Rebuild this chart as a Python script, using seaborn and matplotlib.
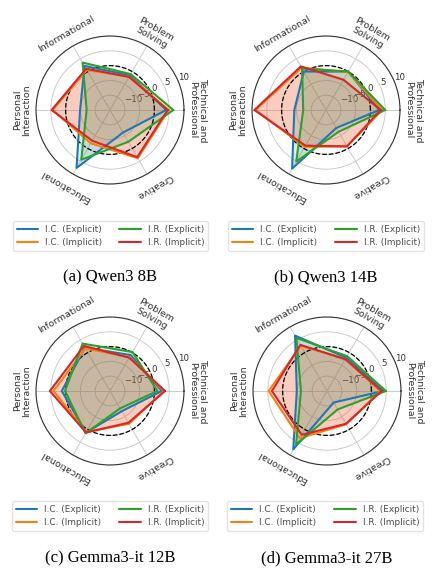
import numpy as np
import pandas as pd
import matplotlib
matplotlib.use("Agg")
import matplotlib.pyplot as plt
import seaborn as sns

categories = ["Technical and\nProfessional", "Problem\nSolving", "Informational",
              "Personal\nInteraction", "Educational", "Creative"]
series_names = ["I.C. (Explicit)", "I.C. (Implicit)", "I.R. (Explicit)", "I.R. (Implicit)"]
model_titles = ["(a) Qwen3 8B", "(b) Qwen3 14B", "(c) Gemma3-it 12B", "(d) Gemma3-it 27B"]

# values per model, one list per series (same order as categories)
qwen8_ic_exp = [4.0, -1.5, 2.2, -4.9, 7.6, -6.2]
qwen8_ic_imp = [4.8, -2.0, 0.6, 4.4, -2.0, 3.8]
qwen8_ir_exp = [6.4, -1.0, 3.5, -7.1, 4.4, -2.6]
qwen8_ir_imp = [4.5, -2.1, 1.1, 4.7, -3.0, 3.4]

qwen14_ic_exp = [3.0, 0.0, 0.0, -4.3, 7.9, -8.0]
qwen14_ic_imp = [4.0, -0.2, 1.5, 8.8, -0.6, -0.8]
qwen14_ir_exp = [5.0, 0.0, 1.2, -7.3, 5.1, -6.5]
qwen14_ir_imp = [3.5, -3.2, 2.0, 9.2, -1.1, -0.8]

gemma12_ic_exp = [2.5, -1.0, 1.9, 1.3, 1.2, -7.1]
gemma12_ic_imp = [3.2, -1.8, 1.6, 4.1, 1.0, -2.2]
gemma12_ir_exp = [1.0, 0.2, 3.5, 0.2, 1.5, -8.2]
gemma12_ir_imp = [3.6, -2.0, 2.6, 5.3, 1.2, -2.6]

gemma27_ic_exp = [4.0, -2.0, 6.6, -4.8, 7.8, -10.5]
gemma27_ic_imp = [3.0, -2.6, 2.7, 4.7, 3.4, -2.0]
gemma27_ir_exp = [4.9, -1.4, 5.7, -6.2, 5.9, -7.8]
gemma27_ir_imp = [3.5, -2.6, 3.0, 3.6, 2.1, -2.2]

models = [
    [qwen8_ic_exp, qwen8_ic_imp, qwen8_ir_exp, qwen8_ir_imp],
    [qwen14_ic_exp, qwen14_ic_imp, qwen14_ir_exp, qwen14_ir_imp],
    [gemma12_ic_exp, gemma12_ic_imp, gemma12_ir_exp, gemma12_ir_imp],
    [gemma27_ic_exp, gemma27_ic_imp, gemma27_ir_exp, gemma27_ir_imp],
]

r_ticks = [-10, -5, 0, 5, 10]
r_min, r_max = -15, 10

sns.set_theme(style="whitegrid")
plt.rcParams["font.family"] = ["DejaVu Sans"]
palette = sns.color_palette("tab10", 4)

fig = plt.figure(figsize=(4.37, 5.74), dpi=100)
W, H = 437, 574

# panel centers in pixels (x, y from top) and radius
centers = [(110, 110), (326, 110), (110, 391), (327, 391)]
radius = 74
legend_boxes = [(13, 220, 208, 252), (228, 220, 424, 252), (12, 500, 208, 532), (227, 500, 423, 532)]
caption_y = [277, 277, 558, 558]

angles = np.linspace(0, 2 * np.pi, len(categories), endpoint=False)

for i, vals_list in enumerate(models):
    cx, cy = centers[i]
    ax = fig.add_axes([(cx - radius) / W, 1 - (cy + radius) / H, 2 * radius / W, 2 * radius / H],
                      projection="polar")
    rows = []
    for name, vals in zip(series_names, vals_list):
        closed = list(vals) + [vals[0]]
        th = list(angles) + [angles[0] + 2 * np.pi]
        for t, v in zip(th, closed):
            rows.append({"theta": t, "value": v, "series": name})
    df = pd.DataFrame(rows)

    for k, name in enumerate(series_names):
        sub = df[df["series"] == name]
        ax.fill(sub["theta"], sub["value"], color=palette[k], alpha=0.15, zorder=2, lw=0)
    sns.lineplot(data=df, x="theta", y="value", hue="series", palette=palette,
                 hue_order=series_names, sort=False, estimator=None, legend=False,
                 linewidth=1.5, ax=ax, zorder=3)

    ax.set_xlabel("")
    ax.set_ylabel("")
    ax.set_ylim(r_min, r_max)
    ax.set_yticks(r_ticks)
    ax.set_yticklabels([f"{t}" if t >= 0 else f"\u2212{-t}" for t in r_ticks], fontsize=6.2, color=".2")
    ax.set_rlabel_position(22.5)
    ax.set_xticks(angles)
    ax.set_xticklabels([])
    ax.grid(color="#cccccc", linewidth=0.7)
    ax.spines["polar"].set_color("#333333")
    ax.spines["polar"].set_linewidth(0.8)

    # dashed zero circle
    circ_t = np.linspace(0, 2 * np.pi, 200)
    ax.plot(circ_t, np.zeros_like(circ_t), color="black", ls="--", lw=0.9, zorder=2.5)

    for ang, lab in zip(angles, categories):
        ax.text(ang, 14.7, lab, rotation=np.degrees(ang) - 90, rotation_mode="anchor",
                ha="center", va="center", fontsize=6.8, color=".2", linespacing=1.1,
                clip_on=False)

    x0, y0, x1, y1 = legend_boxes[i]
    handles = [plt.Line2D([], [], color=palette[k], lw=1.5) for k in range(4)]
    fig.legend(handles, series_names, loc="center", ncol=2, mode="expand",
               bbox_to_anchor=(x0 / W, 1 - y1 / H, (x1 - x0) / W, (y1 - y0) / H),
               fontsize=6.4, frameon=True, handlelength=2.4, borderaxespad=0,
               labelcolor=".3", edgecolor="#dddddd", fancybox=True)

    fig.text(cx / W, 1 - caption_y[i] / H, model_titles[i], ha="center", va="center",
             fontsize=12, family="Liberation Serif", color="black")

fig.savefig("out.png", dpi=100)
plt.close()
